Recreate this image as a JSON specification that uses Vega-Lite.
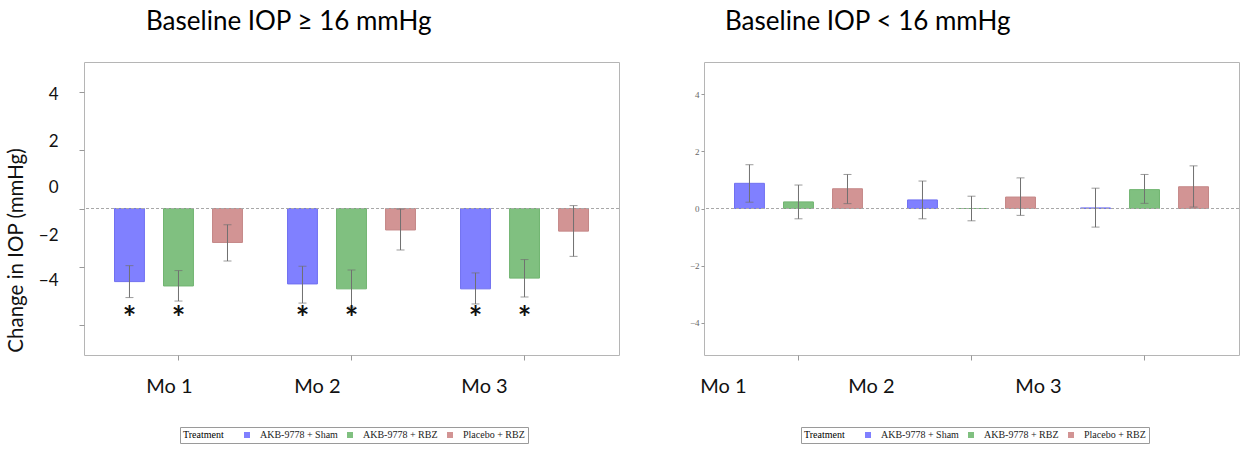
{
  "$schema": "https://vega.github.io/schema/vega-lite/v6.json",
  "background": "white",
  "padding": {"left": 5, "top": 8, "right": 0, "bottom": 0},
  "datasets": {
    "hi": [
      {"month": "Mo 1", "treatment": "AKB-9778 + Sham", "mean": -2.52, "lo": -3.07, "hi": -1.97, "sig": "*"},
      {"month": "Mo 1", "treatment": "AKB-9778 + RBZ", "mean": -2.67, "lo": -3.19, "hi": -2.14, "sig": "*"},
      {"month": "Mo 1", "treatment": "Placebo + RBZ", "mean": -1.17, "lo": -1.81, "hi": -0.56, "sig": ""},
      {"month": "Mo 2", "treatment": "AKB-9778 + Sham", "mean": -2.60, "lo": -3.26, "hi": -1.99, "sig": "*"},
      {"month": "Mo 2", "treatment": "AKB-9778 + RBZ", "mean": -2.77, "lo": -3.40, "hi": -2.12, "sig": "*"},
      {"month": "Mo 2", "treatment": "Placebo + RBZ", "mean": -0.74, "lo": -1.43, "hi": -0.02, "sig": ""},
      {"month": "Mo 3", "treatment": "AKB-9778 + Sham", "mean": -2.77, "lo": -3.29, "hi": -2.22, "sig": "*"},
      {"month": "Mo 3", "treatment": "AKB-9778 + RBZ", "mean": -2.40, "lo": -3.05, "hi": -1.76, "sig": "*"},
      {"month": "Mo 3", "treatment": "Placebo + RBZ", "mean": -0.78, "lo": -1.65, "hi": 0.10, "sig": ""}
    ],
    "lo": [
      {"month": "Mo 1", "treatment": "AKB-9778 + Sham", "mean": 0.88, "lo": 0.22, "hi": 1.53},
      {"month": "Mo 1", "treatment": "AKB-9778 + RBZ", "mean": 0.23, "lo": -0.36, "hi": 0.82},
      {"month": "Mo 1", "treatment": "Placebo + RBZ", "mean": 0.69, "lo": 0.17, "hi": 1.19},
      {"month": "Mo 2", "treatment": "AKB-9778 + Sham", "mean": 0.30, "lo": -0.36, "hi": 0.96},
      {"month": "Mo 2", "treatment": "AKB-9778 + RBZ", "mean": 0.0, "lo": -0.43, "hi": 0.43},
      {"month": "Mo 2", "treatment": "Placebo + RBZ", "mean": 0.40, "lo": -0.24, "hi": 1.07},
      {"month": "Mo 3", "treatment": "AKB-9778 + Sham", "mean": 0.02, "lo": -0.65, "hi": 0.71},
      {"month": "Mo 3", "treatment": "AKB-9778 + RBZ", "mean": 0.66, "lo": 0.18, "hi": 1.19},
      {"month": "Mo 3", "treatment": "Placebo + RBZ", "mean": 0.76, "lo": 0.05, "hi": 1.49}
    ]
  },
  "config": {
    "view": {"stroke": "#b5b5b5", "strokeWidth": 1},
    "axis": {"grid": false, "domain": false, "tickColor": "#999999", "tickSize": 5},
    "legend": {
      "orient": "none", "direction": "horizontal", "titleOrient": "left",
      "titleFont": "Liberation Serif", "titleFontSize": 10, "titleFontWeight": "normal", "titleColor": "#000000",
      "labelFont": "Liberation Serif", "labelFontSize": 10, "labelColor": "#222222",
      "symbolType": "square", "symbolSize": 36, "symbolStrokeWidth": 0, "symbolOpacity": 1,
      "strokeColor": "#9a9a9a", "padding": 3, "columnPadding": 7, "labelOffset": 8, "titlePadding": 18
    },
    "title": {"font": "Lato", "fontSize": 26, "fontWeight": "normal", "color": "#000000", "anchor": "start", "frame": "group", "offset": 27.5}
  },
  "spacing": 68,
  "resolve": {"scale": {"color": "independent", "y": "independent", "x": "independent"}, "legend": {"color": "independent"}},
  "hconcat": [
    {
      "width": 535, "height": 293,
      "title": {"text": "Baseline IOP ≥ 16 mmHg", "dx": 62},
      "data": {"name": "hi"},
      "encoding": {
        "x": {"field": "month", "type": "nominal", "sort": ["Mo 1", "Mo 2", "Mo 3"],
              "scale": {"paddingInner": 0, "paddingOuter": 0.046},
              "axis": {"title": null, "labelAngle": 0, "labelFont": "Lato", "labelFontSize": 20, "labelColor": "#111111", "labelPadding": 16,
                       "labelOffset": {"condition": [{"test": "datum.value == 'Mo 1'", "value": -9}, {"test": "datum.value == 'Mo 2'", "value": -34}], "value": -40}}},
        "xOffset": {"field": "treatment", "type": "nominal", "sort": ["AKB-9778 + Sham", "AKB-9778 + RBZ", "Placebo + RBZ"],
                    "scale": {"paddingInner": 0.39, "paddingOuter": 0.46}}
      },
      "layer": [
        {
          "mark": {"type": "bar", "strokeWidth": 1},
          "encoding": {
            "y": {"field": "mean", "type": "quantitative",
                  "scale": {"domain": [-5.05, 5.05], "nice": false, "zero": false},
                  "axis": {"title": "Change in IOP (mmHg)", "values": [-4, -2, 0, 2, 4], "format": "d",
                           "titleFont": "Lato", "titleFontSize": 20.5, "titleFontWeight": "normal", "titleColor": "#111111", "titlePadding": 12, "titleY": 188,
                           "labelFont": "Lato", "labelFontSize": 17, "labelColor": "#111111", "labelPadding": 21,
                           "labelOffset": {"condition": [{"test": "datum.value == 4", "value": 2}, {"test": "datum.value == 2", "value": -9}, {"test": "datum.value == 0", "value": -21}, {"test": "datum.value == -2", "value": -31}], "value": -44}}},
            "y2": {"datum": 0},
            "color": {"field": "treatment", "type": "nominal",
                      "sort": ["AKB-9778 + Sham", "AKB-9778 + RBZ", "Placebo + RBZ"],
                      "scale": {"domain": ["AKB-9778 + Sham", "AKB-9778 + RBZ", "Placebo + RBZ"], "range": ["#8080ff", "#80c080", "#d29494"]},
                      "legend": {"title": "Treatment", "legendX": 96, "legendY": 365}},
            "stroke": {"field": "treatment", "type": "nominal", "legend": null,
                       "scale": {"domain": ["AKB-9778 + Sham", "AKB-9778 + RBZ", "Placebo + RBZ"], "range": ["#7070f0", "#70b470", "#c48686"]}}
          }
        },
        {
          "mark": {"type": "rule", "color": "#a8a8a8", "strokeDash": [3, 2], "strokeWidth": 1},
          "encoding": {"y": {"datum": 0}, "x": null, "xOffset": null}
        },
        {
          "mark": {"type": "rule", "color": "#707070", "strokeWidth": 1},
          "encoding": {"y": {"field": "lo", "type": "quantitative"}, "y2": {"field": "hi"}}
        },
        {
          "mark": {"type": "tick", "color": "#707070", "size": 8, "thickness": 1, "orient": "horizontal"},
          "encoding": {"y": {"field": "lo", "type": "quantitative"}}
        },
        {
          "mark": {"type": "tick", "color": "#707070", "size": 8, "thickness": 1, "orient": "horizontal"},
          "encoding": {"y": {"field": "hi", "type": "quantitative"}}
        },
        {
          "transform": [{"filter": "datum.sig == '*'"}],
          "mark": {"type": "text", "font": "Lato", "fontSize": 32, "fontWeight": "bold", "color": "#111111", "baseline": "alphabetic"},
          "encoding": {"y": {"datum": -4.2}, "text": {"field": "sig"}}
        }
      ]
    },
    {
      "width": 535, "height": 293,
      "title": {"text": "Baseline IOP < 16 mmHg", "dx": 21},
      "data": {"name": "lo"},
      "encoding": {
        "x": {"field": "month", "type": "nominal", "sort": ["Mo 1", "Mo 2", "Mo 3"],
              "scale": {"paddingInner": 0, "paddingOuter": 0.046},
              "axis": {"title": null, "labelAngle": 0, "labelFont": "Lato", "labelFontSize": 20, "labelColor": "#111111", "labelPadding": 16,
                       "labelOffset": {"condition": [{"test": "datum.value == 'Mo 1'", "value": -75}, {"test": "datum.value == 'Mo 2'", "value": -100}], "value": -106}}},
        "xOffset": {"field": "treatment", "type": "nominal", "sort": ["AKB-9778 + Sham", "AKB-9778 + RBZ", "Placebo + RBZ"],
                    "scale": {"paddingInner": 0.39, "paddingOuter": 0.46}}
      },
      "layer": [
        {
          "mark": {"type": "bar", "strokeWidth": 1},
          "encoding": {
            "y": {"field": "mean", "type": "quantitative",
                  "scale": {"domain": [-5.12, 5.12], "nice": false, "zero": false},
                  "axis": {"title": null, "values": [-4, -2, 0, 2, 4], "format": "d", "tickSize": 3,
                           "labelFont": "Liberation Serif", "labelFontSize": 9, "labelColor": "#666666", "labelPadding": 2}},
            "y2": {"datum": 0},
            "color": {"field": "treatment", "type": "nominal",
                      "sort": ["AKB-9778 + Sham", "AKB-9778 + RBZ", "Placebo + RBZ"],
                      "scale": {"domain": ["AKB-9778 + Sham", "AKB-9778 + RBZ", "Placebo + RBZ"], "range": ["#8080ff", "#80c080", "#d29494"]},
                      "legend": {"title": "Treatment", "legendX": 97, "legendY": 365}},
            "stroke": {"field": "treatment", "type": "nominal", "legend": null,
                       "scale": {"domain": ["AKB-9778 + Sham", "AKB-9778 + RBZ", "Placebo + RBZ"], "range": ["#7070f0", "#70b470", "#c48686"]}}
          }
        },
        {
          "mark": {"type": "rule", "color": "#a8a8a8", "strokeDash": [3, 2], "strokeWidth": 1},
          "encoding": {"y": {"datum": 0}, "x": null, "xOffset": null}
        },
        {
          "mark": {"type": "rule", "color": "#707070", "strokeWidth": 1},
          "encoding": {"y": {"field": "lo", "type": "quantitative"}, "y2": {"field": "hi"}}
        },
        {
          "mark": {"type": "tick", "color": "#707070", "size": 8, "thickness": 1, "orient": "horizontal"},
          "encoding": {"y": {"field": "lo", "type": "quantitative"}}
        },
        {
          "mark": {"type": "tick", "color": "#707070", "size": 8, "thickness": 1, "orient": "horizontal"},
          "encoding": {"y": {"field": "hi", "type": "quantitative"}}
        }
      ]
    }
  ]
}
